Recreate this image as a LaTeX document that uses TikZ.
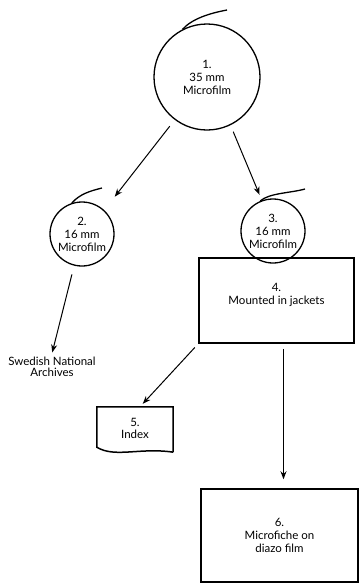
\documentclass[tikz,border=0pt]{standalone}
\usepackage{fontspec}
\setmainfont{Lato}
\usepackage{tikz}
\usetikzlibrary{arrows.meta, positioning, calc}
\tikzset{
  % Film styles
  filmcircle/.style={circle, draw=black, line width=1.3pt, minimum size=64pt, inner sep=0pt, align=center, font=\fontsize{11.5}{13}\selectfont},
  bigfilm/.style={filmcircle, minimum size=106pt},
  curl/.style={line width=1.3pt},
  % Box styles
  jacketbox/.style={rectangle, draw=black, line width=1.5pt, align=center, font=\fontsize{11.5}{13}\selectfont},
  docbox/.style={rectangle, draw=none, minimum width=76pt, minimum height=42pt, align=center, font=\fontsize{11.5}{12}\selectfont},
  plaintext/.style={align=center, font=\fontsize{11.5}{11.5}\selectfont},
  % Arrow styles
  arrow/.style={-{Stealth[length=8pt, width=6pt]}, line width=1pt, black}
}
\begin{document}
\begin{tikzpicture}[x=1pt, y=-1pt]
  \useasboundingbox (0,0) rectangle (363,587);

  % Film circles
  \node[bigfilm] (film35) at (207,77) {1.\\35 mm\\Microfilm};
  \node[filmcircle] (film16a) at (82,234) {2.\\16 mm\\Microfilm};
  \node[filmcircle] (film16b) at (273,231) {3.\\16 mm\\Microfilm};

  % Curls
  \draw[curl] (film35.117) .. controls +(10,-11) and +(-16,3) .. ($(film35)+(20,-67)$);
  \draw[curl] (film16a.108) .. controls +(8,-9) and +(-12,3) .. ($(film16a)+(20,-46)$);
  \draw[curl] (film16b.113) .. controls +(9,-8) and +(-14,4) .. ($(film16b)+(32,-42)$);

  % Boxes
  \node[jacketbox, minimum width=155pt, minimum height=85pt] (jackets) at (276.5,300.5) {4.\\Mounted in jackets\\\mbox{}};
  \node[docbox] (index) at (135,428) {5.\\Index};
  \draw[line width=1.5pt] ([yshift=-3pt]index.south east) -- (index.north east) -- (index.north west) -- ([yshift=2pt]index.south west)
    .. controls +(18,11) and +(-33,-5) .. ([yshift=-3pt]index.south east);
  \node[jacketbox, minimum width=157pt, minimum height=93pt] (fiche) at (279.5,535.5) {6.\\Microfiche on\\diazo film};

  % Archive
  \node[plaintext] (archives) at (52,367) {Swedish National\\Archives};

  % Arrows
  \draw[arrow, shorten <=8pt, shorten >=17pt] (film35.233) -- (film16a.47);
  \draw[arrow, shorten <=7pt, shorten >=6pt] (film35.296) -- (film16b.110);
  \draw[arrow, shorten <=9pt, shorten >=1pt] (film16a.256) -- (archives.north);
  \draw[arrow, shorten <=5pt, shorten >=4pt] (jackets.south west) -- ([xshift=5pt]index.north);
  \draw[arrow, shorten <=5pt, shorten >=9pt] ([xshift=4pt]fiche.north |- jackets.south) -- ([xshift=4pt]fiche.north);
\end{tikzpicture}
\end{document}
